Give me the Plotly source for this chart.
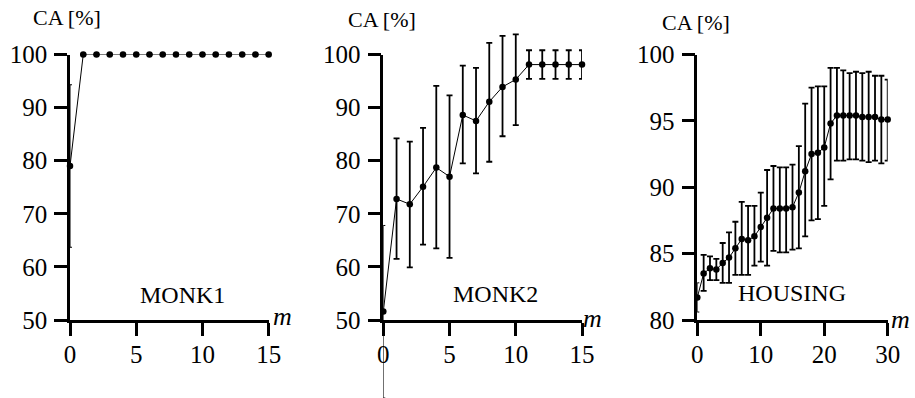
import plotly.graph_objects as go

# ---- data ----
m1 = list(range(0, 16))
ca1 = [79.0] + [100.0] * 15
hi1 = [94.3] + [100.0] * 15
lo1 = [63.7] + [100.0] * 15

m2 = list(range(0, 16))
ca2 = [51.6, 72.8, 71.8, 75.1, 78.7, 77.0, 88.6, 87.5, 91.1, 93.9, 95.3, 98.1, 98.1, 98.1, 98.1, 98.1]
hi2 = [67.8, 84.2, 83.6, 86.2, 94.1, 92.3, 97.9, 97.5, 102.2, 103.5, 103.8, 100.8, 100.8, 100.8, 100.8, 100.8]
lo2 = [35.3, 61.5, 59.9, 64.2, 63.5, 61.7, 79.5, 77.6, 79.8, 84.6, 86.7, 95.4, 95.4, 95.4, 95.4, 95.4]

m3 = list(range(0, 31))
ca3 = [81.7, 83.5, 83.9, 83.8, 84.3, 84.7, 85.4, 86.1, 86.0, 86.3, 87.0, 87.7, 88.4, 88.4, 88.4, 88.5,
       89.6, 91.2, 92.5, 92.6, 93.0, 94.8, 95.4, 95.4, 95.4, 95.4, 95.3, 95.3, 95.3, 95.1, 95.1]
hi3 = [82.8, 84.9, 84.8, 84.6, 85.8, 86.6, 87.4, 88.9, 88.6, 88.6, 89.6, 91.3, 91.6, 91.5, 91.5, 91.7,
       93.1, 96.3, 97.5, 97.6, 97.6, 99.0, 99.0, 98.8, 98.6, 98.7, 98.6, 98.7, 98.4, 98.4, 98.1]
lo3 = [80.6, 82.2, 83.0, 83.0, 82.8, 82.8, 83.4, 83.4, 83.4, 84.1, 84.4, 84.1, 85.2, 85.1, 85.1, 85.3,
       85.4, 86.3, 87.5, 87.6, 88.6, 90.6, 92.0, 92.0, 92.1, 92.1, 92.0, 91.9, 92.0, 91.8, 92.0]

names = ["MONK1", "MONK2", "HOUSING"]
xticks = [[0, 5, 10, 15], [0, 5, 10, 15], [0, 10, 20, 30]]
yticks = [[50, 60, 70, 80, 90, 100], [50, 60, 70, 80, 90, 100], [80, 85, 90, 95, 100]]
xranges = [[0, 15], [0, 15], [0, 30]]
yranges = [[50, 100], [50, 100], [80, 100]]

series = [(m1, ca1, hi1, lo1), (m2, ca2, hi2, lo2), (m3, ca3, hi3, lo3)]

W, H = 915, 398
FONT = "Liberation Serif"

# pixel layout of each panel (left, right, top, bottom)
boxes = [(70, 268.7, 54.5, 320), (383.3, 582, 54.5, 320), (697.3, 887.7, 54.5, 320)]
ca_pos = [(67, 18), (382, 19), (696, 23)]
name_pos = [(182, 295), (496, 294), (792, 293)]
m_pos = [(282, 316), (592, 318), (900, 319)]

fig = go.Figure()
layout = dict(
    template="none",
    width=W, height=H,
    margin=dict(l=0, r=0, t=0, b=0, pad=0),
    paper_bgcolor="white", plot_bgcolor="rgba(0,0,0,0)",
    showlegend=False,
    font=dict(family=FONT, size=24, color="black"),
)
annotations = []

for i, (xs, ys, hi, lo) in enumerate(series):
    ax = "" if i == 0 else str(i + 1)
    hx = str(i + 4)
    xa, ya = "x" + ax, "y" + ax
    hxa, hya = "x" + hx, "y" + hx
    ep = [h - y for h, y in zip(hi, ys)]
    em = [y - l for l, y in zip(lo, ys)]
    # error bars on a hidden full-height subplot with identical scale (so they are not clipped)
    fig.add_trace(go.Scatter(
        x=xs[:1], y=ys[:1], mode="markers", marker=dict(size=1, opacity=0),
        error_y=dict(type="data", symmetric=False, array=ep[:1], arrayminus=em[:1],
                     color="black", thickness=1, width=2),
        xaxis=hxa, yaxis=hya, cliponaxis=False, hoverinfo="skip"))
    fig.add_trace(go.Scatter(
        x=xs[1:], y=ys[1:], mode="markers", marker=dict(size=1, opacity=0),
        error_y=dict(type="data", symmetric=False, array=ep[1:], arrayminus=em[1:],
                     color="black", thickness=1.8, width=3),
        xaxis=hxa, yaxis=hya, cliponaxis=False, hoverinfo="skip"))
    fig.add_trace(go.Scatter(
        x=xs, y=ys, mode="lines+markers",
        line=dict(color="black", width=1),
        marker=dict(color="black", size=6.5),
        xaxis=xa, yaxis=ya, cliponaxis=False))

    l, r, t, b = boxes[i]
    y0, y1 = yranges[i]
    k = (b - t) / (y1 - y0)
    ext = [y0 - (H - b) / k, y1 + t / k]

    common = dict(showgrid=False, zeroline=False, showline=True, linewidth=2.5, linecolor="black",
                  ticks="outside", ticklen=13, tickwidth=2.5, tickcolor="black", automargin=False,
                  tickfont=dict(family=FONT, size=25, color="black"))
    layout["xaxis" + ax] = dict(domain=[l / W, r / W], range=xranges[i], tickvals=xticks[i],
                                anchor=ya, ticklabelstandoff=-3, **common)
    layout["yaxis" + ax] = dict(domain=[1 - b / H, 1 - t / H], range=yranges[i], tickvals=yticks[i],
                                anchor=xa, ticklabelstandoff=2, **common)
    layout["xaxis" + hx] = dict(domain=[l / W, r / W], range=xranges[i], visible=False,
                                anchor=hya, automargin=False, fixedrange=True)
    layout["yaxis" + hx] = dict(domain=[0, 1], range=ext, visible=False,
                                anchor=hxa, automargin=False, fixedrange=True)

    annotations.append(dict(text="CA [%]", x=ca_pos[i][0] / W, y=1 - ca_pos[i][1] / H,
                            xref="paper", yref="paper", showarrow=False,
                            xanchor="center", yanchor="middle",
                            font=dict(family=FONT, size=22, color="black")))
    annotations.append(dict(text=names[i], x=name_pos[i][0] / W, y=1 - name_pos[i][1] / H,
                            xref="paper", yref="paper", showarrow=False,
                            xanchor="center", yanchor="middle",
                            font=dict(family=FONT, size=24, color="black")))
    annotations.append(dict(text="<i>m</i>", x=m_pos[i][0] / W, y=1 - m_pos[i][1] / H,
                            xref="paper", yref="paper", showarrow=False,
                            xanchor="center", yanchor="middle",
                            font=dict(family=FONT, size=26, color="black")))

layout["annotations"] = annotations
fig.update_layout(**layout)
fig.write_html("out.html", config={"displayModeBar": False},
               post_script="document.body.style.margin='0';")
